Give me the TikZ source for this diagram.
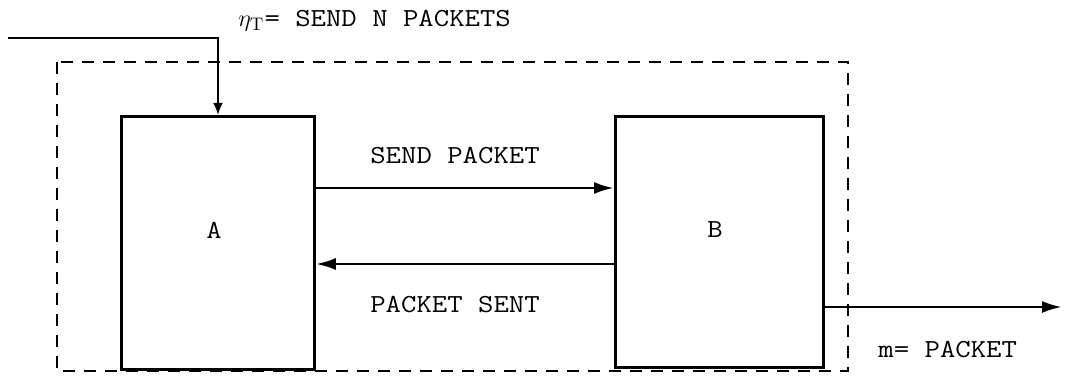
\documentclass[tikz,border=0pt]{standalone}
\usepackage{fontspec}
\usetikzlibrary{arrows.meta}
\newfontfamily\tw{Latin Modern Mono}[FakeStretch=1.15]
\begin{document}
\begin{tikzpicture}[x=0.5pt,y=-0.5pt,
  txt/.style={font=\tw\fontsize{13}{15}\selectfont,inner sep=0pt},
  blk/.style={draw,line width=1.4pt,minimum width=96.5pt,minimum height=126.5pt,inner sep=0pt,anchor=north west},
  conn/.style={line width=1.4pt,-{Latex[length=10pt,width=6pt]}},
  border/.style={line width=1.1pt,dash pattern=on 6pt off 4.5pt}]
\useasboundingbox (0,0) rectangle (1065,378);
\draw[border] (57,62) rectangle (848,371);
\node[blk] (A) at (120,115) {};
\node[blk,minimum width=104pt,minimum height=125.5pt] (B) at (614,115) {};
\node[txt] (la) at (214,230) {A};
\node[txt] (lb) at (715,230) {B};
\coordinate (in) at (8,38);
\coordinate (bend) at (218,38);
\coordinate (out) at (1062,307);
\draw[line width=1.4pt,-{Latex[length=6pt,width=5pt]}] (in) -- (bend) -- (bend |- A.north);
\draw[conn] (A.east |- 0,188) -- (B.west |- 0,188);
\draw[conn] (B.west |- 0,264) -- (A.east |- 0,264);
\draw[conn] (B.east |- 0,307) -- (out);
\node[txt,anchor=west] (t1) at (238,21) {$\eta_{\mathrm{T}}$= SEND N PACKETS};
\node[txt] (t2) at (455,156) {SEND PACKET};
\node[txt] (t3) at (455,305) {PACKET SENT};
\node[txt,anchor=west] (t4) at (878,350) {m= PACKET};
\end{tikzpicture}
\end{document}
